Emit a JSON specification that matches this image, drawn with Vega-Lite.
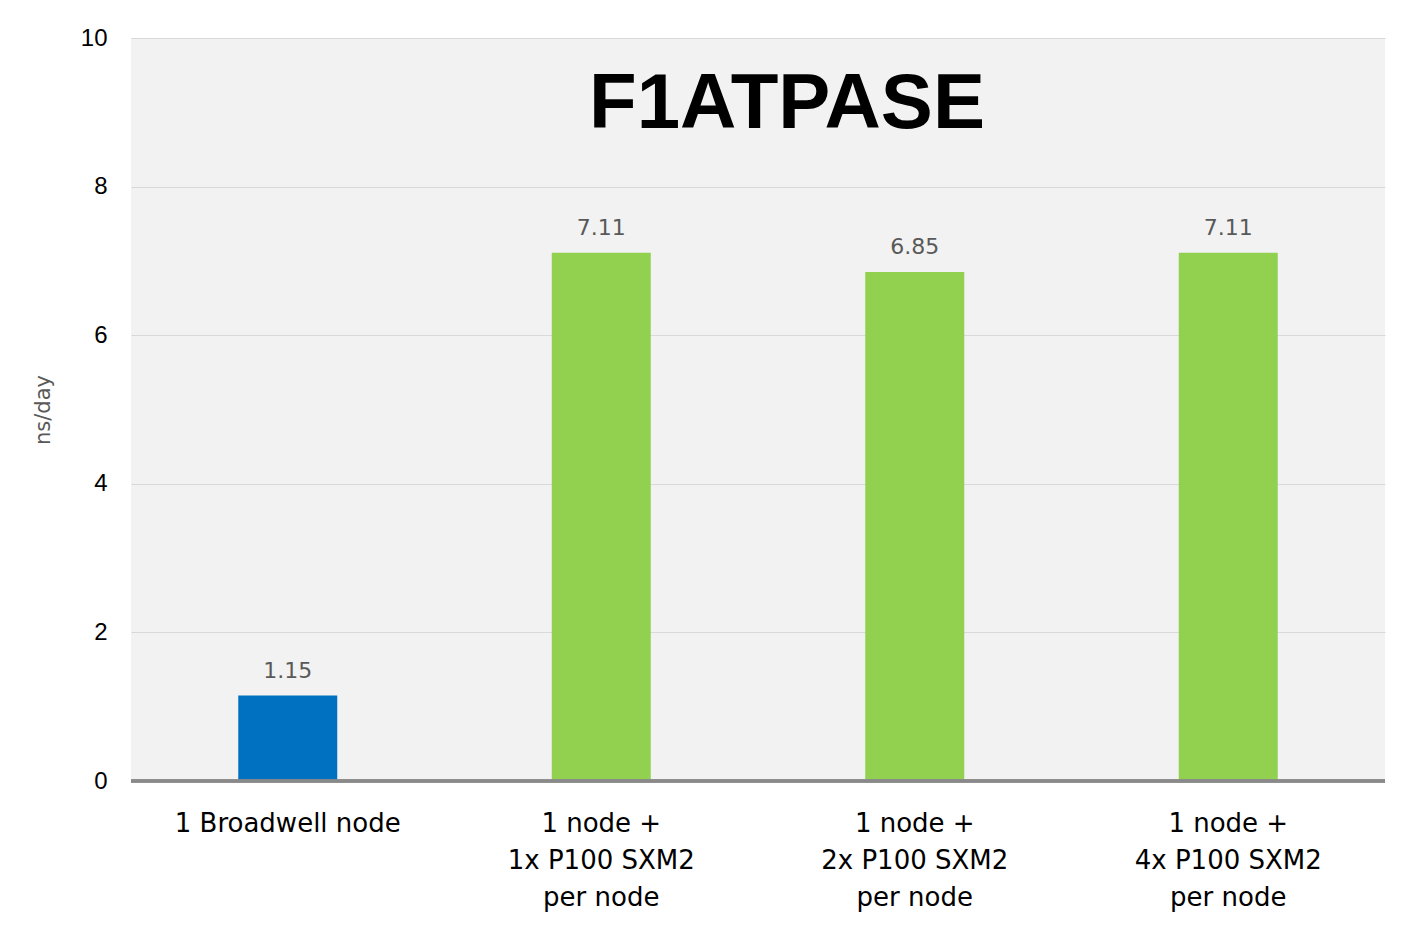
{
  "$schema": "https://vega.github.io/schema/vega-lite/v6.json",
  "width": 1254,
  "height": 743,
  "autosize": "none",
  "padding": {"left": 131, "top": 38, "right": 19, "bottom": 144},
  "background": "white",
  "title": {"text": "F1ATPASE", "fontSize": 78, "fontWeight": "bold", "font": "Liberation Sans", "color": "black", "anchor": "middle", "offset": -118, "dx": 29},
  "config": {
    "view": {"fill": "#f2f2f2", "stroke": null}
  },
  "data": {"values": [
    {"config": "1 Broadwell node", "value": 1.15, "type": "cpu"},
    {"config": "1 node +|1x P100 SXM2|per node", "value": 7.11, "type": "gpu"},
    {"config": "1 node +|2x P100 SXM2|per node", "value": 6.85, "type": "gpu"},
    {"config": "1 node +|4x P100 SXM2|per node", "value": 7.11, "type": "gpu"}
  ]},
  "encoding": {
    "x": {"field": "config", "type": "nominal", "sort": null,
      "scale": {"paddingInner": 0, "paddingOuter": 0},
      "axis": {"title": null, "labelAngle": 0, "labelExpr": "split(datum.label, '|')", "labelFont": "DejaVu Sans", "labelFontSize": 26, "labelColor": "black", "labelLineHeight": 37, "labelPadding": 29, "labelLimit": 0, "ticks": false, "domain": false, "labelBaseline": "top"}},
    "y": {"field": "value", "type": "quantitative",
      "scale": {"domain": [0, 10], "nice": false},
      "axis": {"title": "ns/day", "titleFont": "DejaVu Sans", "titleFontSize": 21, "titleFontWeight": "normal", "titleColor": "#595959", "titlePadding": 27, "values": [0, 2, 4, 6, 8, 10], "labelFont": "Liberation Sans", "labelFontSize": 24, "labelColor": "black", "labelPadding": 24, "ticks": false, "domain": false, "gridColor": "#d9d9d9", "gridWidth": 1}}
  },
  "layer": [
    {"mark": {"type": "bar", "size": 99},
      "encoding": {"color": {"field": "type", "type": "nominal", "scale": {"domain": ["cpu", "gpu"], "range": ["#0070c0", "#92d050"]}, "legend": null}}},
    {"mark": {"type": "text", "dy": -25, "font": "DejaVu Sans", "fontSize": 22, "color": "#595959"},
      "encoding": {"text": {"field": "value", "type": "quantitative", "format": ".2f"}}},
    {"mark": {"type": "rule", "color": "#898989", "strokeWidth": 3},
      "encoding": {"y": {"datum": 0}, "x": null}}
  ]
}
